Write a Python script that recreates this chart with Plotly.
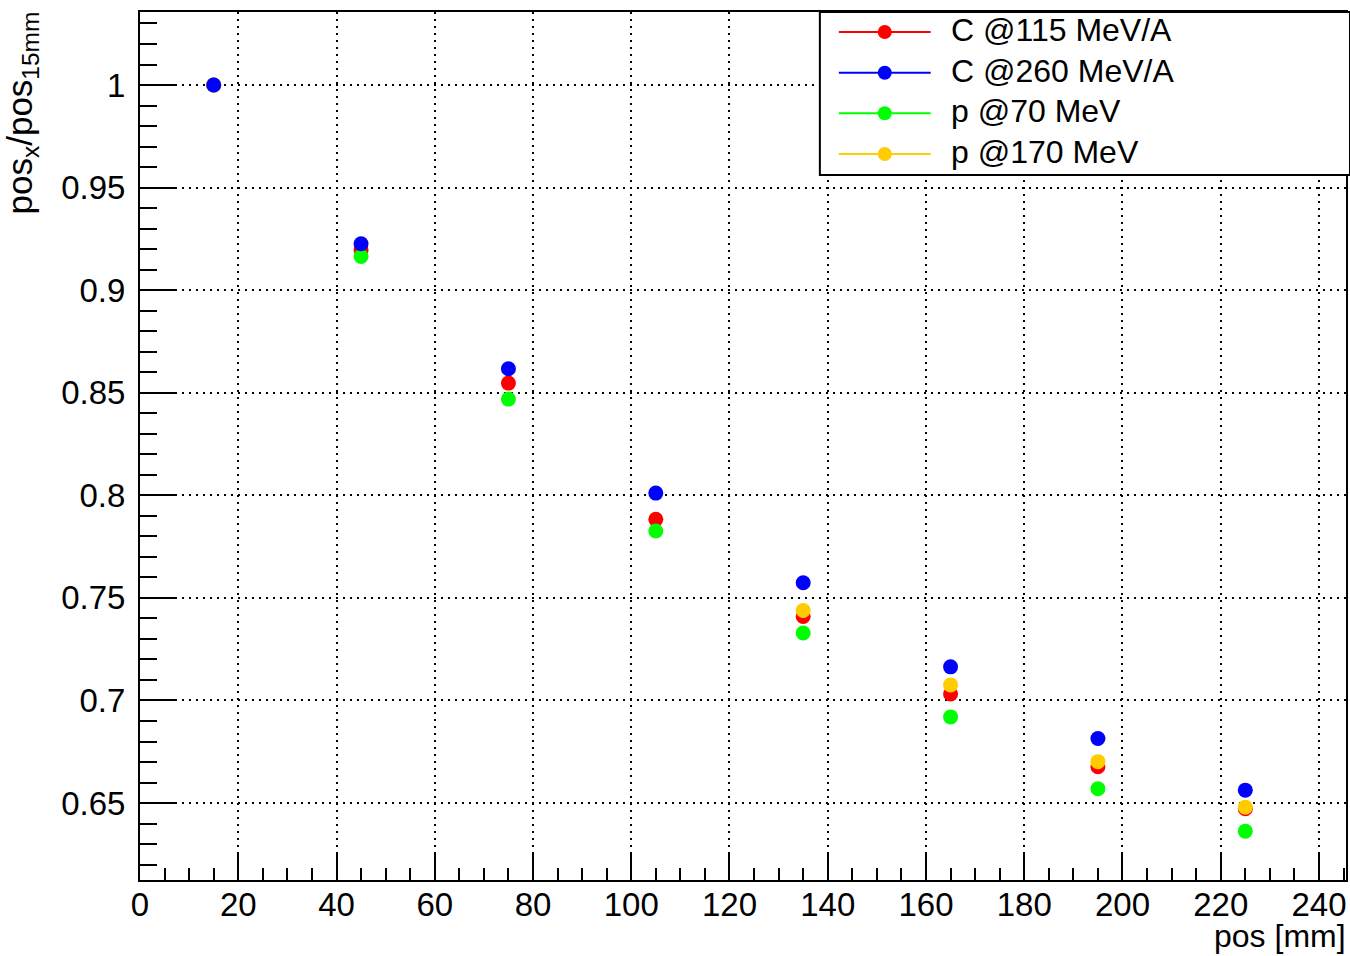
import plotly.graph_objects as go

# ---------------- data ----------------
positions = [15, 45, 75, 105, 135, 165, 195, 225]
c115 = [1.0, 0.9196, 0.8547, 0.7883, 0.7410, 0.7032, 0.6677, 0.6472]
c260 = [1.0, 0.9226, 0.8617, 0.8011, 0.7574, 0.7164, 0.6815, 0.6563]
p70 = [1.0, 0.9164, 0.8469, 0.7826, 0.7329, 0.6920, 0.6570, 0.6363]
p170 = [1.0, None, None, None, 0.7439, 0.7076, 0.6702, 0.6480]

series_names = ["C @115 MeV/A", "C @260 MeV/A", "p @70 MeV", "p @170 MeV"]
series_values = [c115, c260, p70, p170]
series_colors = ["#ff0000", "#0000ff", "#00ff00", "#ffcc00"]
draw_order = [0, 2, 3, 1]

x_tickvals = [0, 20, 40, 60, 80, 100, 120, 140, 160, 180, 200, 220, 240]
x_ticktext = ["0", "20", "40", "60", "80", "100", "120", "140", "160", "180", "200", "220", "240"]
y_tickvals = [0.65, 0.7, 0.75, 0.8, 0.85, 0.9, 0.95, 1.0]
y_ticktext = ["0.65", "0.7", "0.75", "0.8", "0.85", "0.9", "0.95", "1"]

# ---------------- layout constants ----------------
W, H = 1350, 956
ML, MR, MT, MB = 140, 2, 12, 76
PW, PH = W - ML - MR, H - MT - MB
FONT = "Liberation Sans, Arial, Helvetica, sans-serif"


def px_x(px):
    return (px - ML) / PW


def px_y(py):
    return (H - MB - py) / PH


fig = go.Figure()
for i in draw_order:
    fig.add_trace(go.Scatter(
        x=positions, y=series_values[i], mode="markers", name=series_names[i],
        marker=dict(color=series_colors[i], size=15, line=dict(width=0)),
        showlegend=False,
    ))

axis_common = dict(
    showline=True, linecolor="black", linewidth=2, mirror=True,
    showgrid=True, gridcolor="black", gridwidth=1.5, griddash="2px,5px",
    ticks="inside", tickcolor="black", tickwidth=1.5,
    tickfont=dict(family=FONT, size=33, color="black"),
    zeroline=False,
)

fig.update_xaxes(
    range=[0, 245.5], tickmode="array", tickvals=x_tickvals, ticktext=x_ticktext,
    ticklen=28, ticklabelstandoff=-6,
    minor=dict(ticks="inside", ticklen=12, dtick=5, tickcolor="black", tickwidth=1.5, showgrid=False),
    **axis_common,
)
fig.update_yaxes(
    range=[0.6125, 1.0356], tickmode="array", tickvals=y_tickvals, ticktext=y_ticktext,
    ticklen=35, ticklabelstandoff=6,
    minor=dict(ticks="inside", ticklen=17, dtick=0.01, tick0=0, tickcolor="black", tickwidth=1.5, showgrid=False),
    **axis_common,
)

shapes = []
annotations = []

# legend box
shapes.append(dict(type="rect", xref="paper", yref="paper",
                   x0=px_x(821), x1=px_x(1352), y0=px_y(175), y1=px_y(12),
                   line=dict(color="black", width=2), fillcolor="white", layer="above"))
row_y = [32, 72.7, 113.3, 154]
for i, name in enumerate(series_names):
    yy = px_y(row_y[i])
    shapes.append(dict(type="line", xref="paper", yref="paper",
                       x0=px_x(840), x1=px_x(932), y0=yy, y1=yy,
                       line=dict(color=series_colors[i], width=2), layer="above"))
    shapes.append(dict(type="circle", xref="paper", yref="paper",
                       xsizemode="pixel", ysizemode="pixel",
                       xanchor=px_x(886), yanchor=yy, x0=-7, x1=7, y0=-7, y1=7,
                       fillcolor=series_colors[i], line=dict(width=0), layer="above"))
    annotations.append(dict(xref="paper", yref="paper", x=px_x(950), y=yy,
                            xanchor="left", yanchor="middle", showarrow=False, yshift=2,
                            text=name, font=dict(family=FONT, size=32, color="black")))

# axis titles
annotations.append(dict(xref="paper", yref="paper", x=1, y=0, xanchor="right", yanchor="top",
                        xshift=MR, yshift=-36, showarrow=False, text="pos [mm]",
                        font=dict(family=FONT, size=32, color="black")))
annotations.append(dict(xref="paper", yref="paper", x=0, y=1, xanchor="left", yanchor="top",
                        xshift=-ML - 3, yshift=2, showarrow=False, textangle=-90,
                        text="pos<sub>x</sub>/pos<sub>15mm</sub>",
                        font=dict(family=FONT, size=35, color="black")))

fig.update_layout(
    width=W, height=H,
    margin=dict(l=ML, r=MR, t=MT, b=MB, pad=0),
    paper_bgcolor="white", plot_bgcolor="white",
    shapes=shapes, annotations=annotations,
    showlegend=False,
)

fig.write_html("out.html", config={"displayModeBar": False})
